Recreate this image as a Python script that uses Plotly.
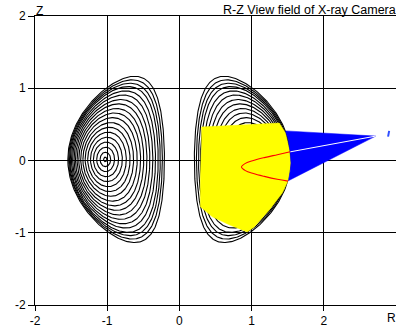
import numpy as np
import plotly.graph_objects as go

# ---- flux-surface geometry ----
rho_levels = [0.035, 0.11, 0.185, 0.26, 0.33, 0.40, 0.465, 0.525, 0.585, 0.64,
              0.69, 0.74, 0.785, 0.83, 0.87, 0.91, 0.94, 0.97, 1.0]
R_center = 0.876      # geometric centre of boundary
a_minor = 0.669       # boundary minor radius
shift_axis = 0.151    # Shafranov shift of magnetic axis
kappa_edge = 1.72
kappa_core = 1.35
delta_edge = 0.38
z_offset = 0.015

# ---- view-field shapes (R, Z) ----
yellow_R = [0.304, 1.383, 1.47, 1.525, 1.545, 1.51, 1.425, 1.245, 1.037, 0.94,
            0.69, 0.456, 0.29, 0.29, 0.304]
yellow_Z = [0.463, 0.518, 0.38, 0.145, -0.035, -0.27, -0.45, -0.684, -0.919, -0.988,
            -0.89, -0.78, -0.64, -0.27, 0.145]

blue_R = [2.72, 1.47, 1.505, 1.53, 1.545, 1.535, 1.51, 2.72]
blue_Z = [0.338, 0.41, 0.30, 0.145, -0.035, -0.15, -0.28, 0.338]

sight_R = [2.72, 1.535]
sight_Z = [0.338, 0.12]

red_R = [1.535, 1.356, 1.176, 1.024, 0.914, 0.86, 0.914, 1.024, 1.176, 1.356, 1.505]
red_Z = [0.12, 0.08, 0.04, 0.0, -0.04, -0.09, -0.14, -0.18, -0.22, -0.26, -0.285]

mark_R = [2.89, 2.905]
mark_Z = [0.33, 0.41]

x_ticks = [-2, -1, 0, 1, 2]
y_ticks = [-2, -1, 0, 1, 2]

# ---- build surfaces ----
theta = np.linspace(0, 2 * np.pi, 301)
cx, cy = [], []
for rho in rho_levels:
    r = a_minor * rho
    kap = kappa_core + (kappa_edge - kappa_core) * rho ** 2
    dl = np.arcsin(delta_edge * rho ** 2)
    R = R_center + shift_axis * (1 - rho ** 2) + r * np.cos(theta + dl * np.sin(theta))
    Z = z_offset + kap * r * np.sin(theta)
    for sgn in (1, -1):
        cx += list(sgn * R) + [None]
        cy += list(Z) + [None]

fig = go.Figure()
fig.add_trace(go.Scatter(x=cx, y=cy, mode="lines",
                         line=dict(color="black", width=1.1), hoverinfo="skip"))
fig.add_trace(go.Scatter(x=yellow_R, y=yellow_Z, mode="lines", fill="toself",
                         fillcolor="#ffff00", line=dict(color="#ffff00", width=0.5),
                         hoverinfo="skip"))
fig.add_trace(go.Scatter(x=blue_R, y=blue_Z, mode="lines", fill="toself",
                         fillcolor="#0000ff", line=dict(color="#0000ff", width=0.5),
                         hoverinfo="skip"))
fig.add_trace(go.Scatter(x=sight_R, y=sight_Z, mode="lines",
                         line=dict(color="white", width=1), hoverinfo="skip"))
fig.add_trace(go.Scatter(x=red_R, y=red_Z, mode="lines", line_shape="spline",
                         line=dict(color="#ff0000", width=1.1), hoverinfo="skip"))
fig.add_trace(go.Scatter(x=mark_R, y=mark_Z, mode="lines",
                         line=dict(color="#3050ff", width=2), hoverinfo="skip"))

family = "Liberation Sans, Arial, sans-serif"
font = dict(family=family, size=12, color="black")
title_font = dict(family=family, size=12.5, color="black")

fig.update_layout(
    width=396, height=327,
    margin=dict(l=35, r=0, t=16, b=22, autoexpand=False),
    paper_bgcolor="white", plot_bgcolor="white",
    showlegend=False, hovermode=False,
    font=font,
    xaxis=dict(range=[-2, 3], tickvals=x_ticks, ticktext=[str(v) for v in x_ticks],
               showgrid=True, gridcolor="black", gridwidth=1, automargin=False,
               showline=True, linecolor="black", linewidth=1, mirror=True,
               ticks="outside", ticklen=5, tickcolor="black",
               zeroline=False, tickfont=font),
    yaxis=dict(range=[-2, 2], tickvals=y_ticks, ticktext=[str(v) for v in y_ticks],
               showgrid=True, gridcolor="black", gridwidth=1, automargin=False,
               showline=True, linecolor="black", linewidth=1, mirror=False,
               ticks="outside", ticklen=6, tickcolor="black",
               zeroline=False, tickfont=font),
    annotations=[
        dict(text="R-Z View field of X-ray Camera", xref="paper", yref="paper",
             x=1, y=1, xanchor="right", yanchor="middle", yshift=6, xshift=1,
             showarrow=False, font=title_font, borderpad=0),
        dict(text="Z", xref="paper", yref="paper", x=0, y=1, xanchor="left",
             yanchor="middle", xshift=0, yshift=5, showarrow=False, font=font, borderpad=0),
        dict(text="R", xref="paper", yref="paper", x=1, y=0, xanchor="right",
             yanchor="middle", yshift=-13, xshift=1, showarrow=False, font=font, borderpad=0),
    ],
)

fig.write_html("out.html", config={"displayModeBar": False},
               post_script="document.body.style.margin='0';document.body.style.padding='0';document.body.style.overflow='hidden';")
